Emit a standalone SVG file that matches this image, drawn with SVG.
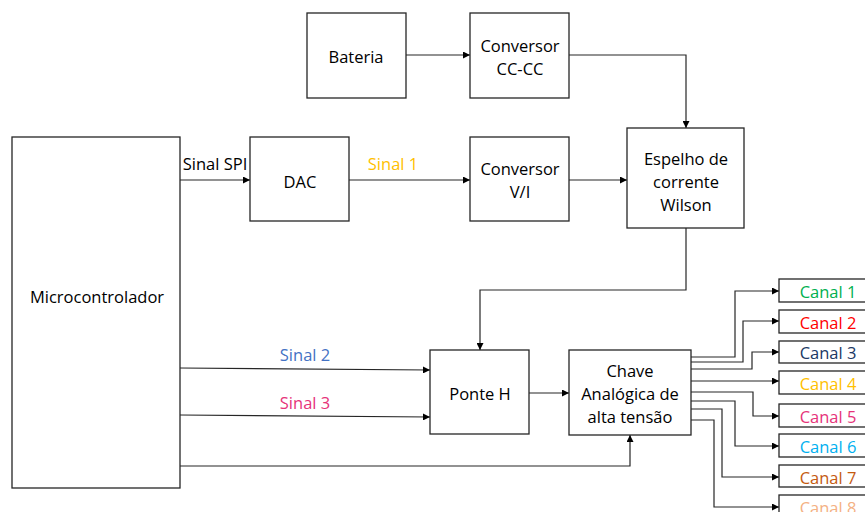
<svg xmlns="http://www.w3.org/2000/svg" width="865" height="512" viewBox="0 0 865 512">
<defs>
<marker id="ah" viewBox="0 0 10 10" refX="10" refY="5" markerWidth="7" markerHeight="7" markerUnits="userSpaceOnUse" orient="auto"><path d="M0,0 L10,5 L0,10 z" fill="#000"/></marker>
<style>
.box{fill:#fff;stroke:#262626;stroke-width:1.3}
.t{font-family:"Open Sans","Liberation Sans",sans-serif;font-size:16.5px;fill:#000;text-anchor:middle;dominant-baseline:central}
.c{fill:none;stroke:#262626;stroke-width:1.2;marker-end:url(#ah)}
</style>
</defs>
<rect width="865" height="512" fill="#fff"/>
<g id="connectors">
<path class="c" d="M406,55 H470"/>
<path class="c" d="M569,55 H686 V128"/>
<path class="c" d="M180,180 H250"/>
<path class="c" d="M349,180 H470"/>
<path class="c" d="M569,180 H627"/>
<path class="c" d="M686,228 V290 H480 V350"/>
<path class="c" d="M180,368 L430,370"/>
<path class="c" d="M180,415 L430,417"/>
<path class="c" d="M180,466 H630 V435"/>
<path class="c" d="M529,393 H569"/>
<path class="c" d="M691,357 H735 V291 H779"/>
<path class="c" d="M691,362 H743 V321 H779"/>
<path class="c" d="M691,369 H752 V352 H779"/>
<path class="c" d="M691,381 H779"/>
<path class="c" d="M691,392 H753 V416 H779"/>
<path class="c" d="M691,401 H735 V446 H779"/>
<path class="c" d="M691,409 H722 V477 H779"/>
<path class="c" d="M691,420 H714 V507 H779"/>
<text class="t" x="215" y="163">Sinal SPI</text>
<text class="t" x="393" y="163" style="fill:#FFC000">Sinal 1</text>
<text class="t" x="305" y="354" style="fill:#4472C4">Sinal 2</text>
<text class="t" x="305" y="402" style="fill:#E6337A">Sinal 3</text>
</g>
<g id="bateria"><rect class="box" x="307" y="13" width="99" height="85"/><text class="t" x="356" y="56">Bateria</text></g>
<g id="conversor-cc"><rect class="box" x="470" y="13" width="99" height="85"/><text class="t" x="520" y="45">Conversor</text><text class="t" x="520" y="68">CC-CC</text></g>
<g id="micro"><rect class="box" x="12" y="137" width="168" height="351"/><text class="t" x="97" y="296">Microcontrolador</text></g>
<g id="dac"><rect class="box" x="250" y="137" width="99" height="84"/><text class="t" x="300" y="181">DAC</text></g>
<g id="conversor-vi"><rect class="box" x="470" y="137" width="99" height="84"/><text class="t" x="520" y="168">Conversor</text><text class="t" x="520" y="191">V/I</text></g>
<g id="espelho"><rect class="box" x="627" y="128" width="117" height="100"/><text class="t" x="686" y="158">Espelho de</text><text class="t" x="686" y="181">corrente</text><text class="t" x="686" y="204">Wilson</text></g>
<g id="ponte"><rect class="box" x="430" y="350" width="99" height="84"/><text class="t" x="480" y="393">Ponte H</text></g>
<g id="chave"><rect class="box" x="569" y="350" width="122" height="85"/><text class="t" x="630" y="370">Chave</text><text class="t" x="630" y="393">Analógica de</text><text class="t" x="630" y="416">alta tensão</text></g>
<g id="canal1"><rect class="box" x="779" y="279" width="90" height="23"/><text class="t" x="828" y="291" style="fill:#00B050">Canal 1</text></g>
<g id="canal2"><rect class="box" x="779" y="310" width="90" height="23"/><text class="t" x="828" y="322" style="fill:#FF0000">Canal 2</text></g>
<g id="canal3"><rect class="box" x="779" y="341" width="90" height="22"/><text class="t" x="828" y="352" style="fill:#203864">Canal 3</text></g>
<g id="canal4"><rect class="box" x="779" y="371" width="90" height="23"/><text class="t" x="828" y="383" style="fill:#FFC000">Canal 4</text></g>
<g id="canal5"><rect class="box" x="779" y="404" width="90" height="23"/><text class="t" x="828" y="416" style="fill:#E6337A">Canal 5</text></g>
<g id="canal6"><rect class="box" x="779" y="434" width="90" height="23"/><text class="t" x="828" y="446" style="fill:#00B0F0">Canal 6</text></g>
<g id="canal7"><rect class="box" x="779" y="465" width="90" height="22"/><text class="t" x="828" y="477" style="fill:#C55A11">Canal 7</text></g>
<g id="canal8"><rect class="box" x="779" y="495" width="90" height="23"/><text class="t" x="828" y="507" style="fill:#F4B183">Canal 8</text></g>
</svg>
